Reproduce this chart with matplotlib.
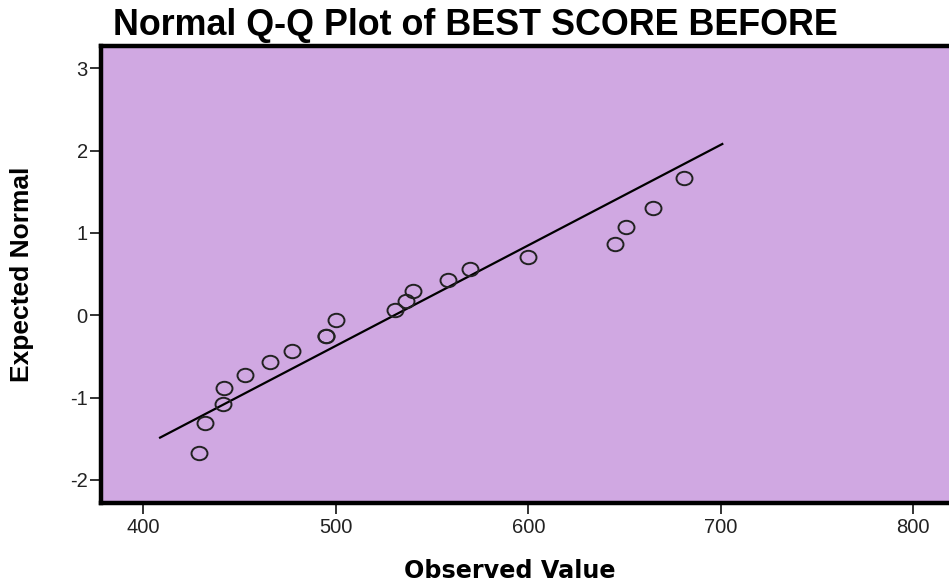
import numpy as np
import matplotlib.pyplot as plt
from matplotlib.path import Path
from matplotlib.transforms import Affine2D

# Observed scores and their expected normal quantiles
observed = [429.1, 432.0, 441.2, 442.0, 452.8, 465.9, 477.0, 494.8, 494.8, 500.0,
            530.6, 536.7, 540.2, 558.3, 569.9, 599.8, 644.9, 650.9, 664.9, 681.0]
expected = [-1.673, -1.31, -1.073, -0.879, -0.72, -0.571, -0.433, -0.25, -0.25, -0.06,
            0.06, 0.174, 0.30, 0.434, 0.567, 0.709, 0.871, 1.066, 1.304, 1.665]

# Reference normal line endpoints
line_x = [408.7, 700.8]
line_y = [-1.486, 2.08]

x_ticks = [400, 500, 600, 700, 800]
y_ticks = [-2, -1, 0, 1, 2, 3]

plt.rcParams['font.family'] = ['Liberation Sans', 'DejaVu Sans']
plt.rcParams['axes.unicode_minus'] = False

fig = plt.figure(figsize=(9.49, 5.87), dpi=100)
ax = fig.add_axes([0.1064, 0.1431, 0.905, 0.7785])
ax.set_facecolor('#D0A8E2')

# slightly flattened open circle marker
ring = Path.unit_circle().transformed(Affine2D().scale(1.0, 0.84))

ax.plot(line_x, line_y, color='black', linewidth=1.6, zorder=2)
ax.plot(observed, expected, linestyle='none', marker=ring, markersize=11.5,
        markerfacecolor='none', markeredgecolor='#222222', markeredgewidth=1.4, zorder=3)

ax.set_xlim(378.0, 824.2)
ax.set_ylim(-2.28, 3.27)
ax.set_xticks(x_ticks)
ax.set_yticks(y_ticks)
ax.tick_params(direction='out', length=8, width=1.4, color='#333333',
               labelsize=14.5, labelcolor='#222222')
ax.tick_params(axis='y', pad=1.5)
ax.tick_params(axis='x', pad=3)

for side in ['left', 'top', 'bottom', 'right']:
    ax.spines[side].set_linewidth(3.2)
    ax.spines[side].set_color('black')

fig.text(510 / 949, 1 - 571 / 587, 'Observed Value', ha='center', va='center',
         fontsize=17.2, fontweight='bold', family='DejaVu Sans')
fig.text(22.5 / 949, 1 - 274 / 587, 'Expected Normal', ha='center', va='center',
         rotation=90, fontsize=19, fontweight='bold')
fig.text(475 / 949, 1 - 25.5 / 587, 'Normal Q-Q Plot of BEST SCORE BEFORE', ha='center',
         va='center', fontsize=25.8, fontweight='bold')

fig.savefig('out.png', dpi=100)
